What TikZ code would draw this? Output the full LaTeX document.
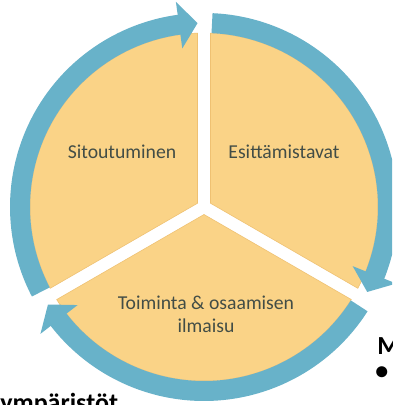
\documentclass[tikz,border=0pt]{standalone}
\usepackage{fontspec}
\setmainfont{Carlito}
\usepackage{xcolor}

\definecolor{wedgefill}{HTML}{FAD387}
\definecolor{wedgeedge}{HTML}{EFC172}
\definecolor{ringblue}{HTML}{68B2C9}
\definecolor{labelgray}{HTML}{424D46}

\begin{document}
\begin{tikzpicture}[
    x=0.025cm, y=0.025cm,
    wedge/.style={fill=wedgefill, draw=wedgeedge, line width=0.4pt},
    cycleshaft/.style={draw=ringblue, line width=0.5cm, line cap=butt},
    cyclehead/.style={fill=ringblue},
    wedgelabel/.style={text=labelgray, font=\fontsize{14}{16.5}\selectfont, align=center, inner sep=0pt},
    sidetext/.style={text=black, font=\fontsize{18.5}{22}\selectfont\bfseries, inner sep=0pt}
]
\useasboundingbox (0,0) rectangle (392,405);
\fill[white] (0,0) rectangle (392,405);
\clip (0,0) rectangle (392,405);

% Wedges and cycle arrows round the centre
\begin{scope}[shift={(204,198)}]
  \filldraw[wedge] (150:7.5) -- (92.14:174) arc[start angle=92.14, end angle=207.86, radius=174] -- cycle;
  \filldraw[wedge] (30:7.5) -- (87.86:174) arc[start angle=87.86, end angle=-27.86, radius=174] -- cycle;
  \filldraw[wedge] (270:7.5) -- (212.14:174) arc[start angle=212.14, end angle=327.86, radius=174] -- cycle;

  \foreach \tail/\tip in {207.5/92, 87.5/-27.5, -32.5/-148} {
    \pgfmathsetmacro{\base}{\tip+5.8}
    \draw[cycleshaft] (\tail:184) arc[start angle=\tail, end angle=\base-0.5, radius=184];
    \fill[cyclehead] (\base:160) -- (\base:207) -- (\tip:184) -- cycle;
  }
\end{scope}

% Labels
\node[wedgelabel] (sitoutuminen) at (122,253) {Sitoutuminen};
\node[wedgelabel] (esittamistavat) at (284,253) {Esittämistavat};
\node[wedgelabel] (toiminta) at (206,91) {Toiminta \& osaamisen\\ilmaisu};

% Text cut off at the edges
\node[sidetext, anchor=base west] (mhead) at (377,50) {M};
\node[sidetext, anchor=base west] (mbullet) at (375,25) {•};
\node[sidetext, anchor=base west] (ymparistot) at (0,-6) {ympäristöt};

\end{tikzpicture}
\end{document}
